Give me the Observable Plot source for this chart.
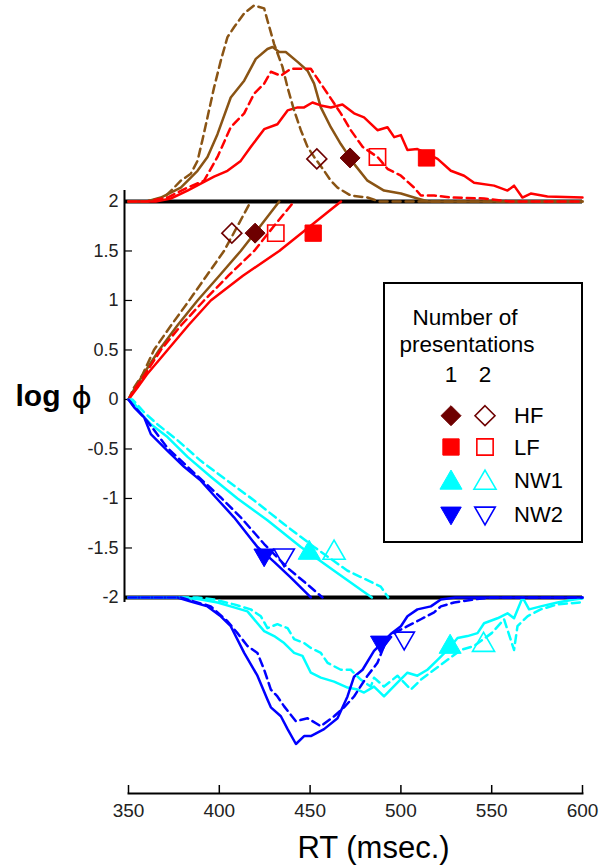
<!DOCTYPE html>
<html><head><meta charset="utf-8">
<script src="https://cdn.jsdelivr.net/npm/d3@7"></script>
<script src="https://cdn.jsdelivr.net/npm/@observablehq/plot@0.6"></script>
<style>
body{margin:0;background:#fff;font-family:"Liberation Sans",Arial,sans-serif;}
#wrap{position:relative;width:608px;height:867px;}
</style></head><body><div id="wrap"></div>
<script>
// ---------- tick labels & categories ----------
const xTicks = [350, 400, 450, 500, 550, 600];
const yTicks = [-2, -1.5, -1, -0.5, 0, 0.5, 1, 1.5, 2];
const series = ["HF", "LF", "NW1", "NW2"];
const presentations = [1, 2];

// ---------- cumulative log phi curves: [RT, log phi] ----------
const HF1_logphi = [[350,0],[353,0.1],[358,0.25],[366.9,0.5],[377,0.75],[388,1.0],[400,1.25],[411.8,1.5],[422.5,1.75],[433,2.0]];
const HF2_logphi = [[350,0],[353,0.12],[357.7,0.25],[364,0.5],[373.5,0.75],[383.4,1.0],[393,1.25],[402.6,1.5],[410,1.75],[417.3,2.0]];
const LF1_logphi = [[350,0],[355,0.12],[360,0.25],[371.5,0.5],[383,0.75],[395.3,1.0],[413,1.25],[433,1.5],[450,1.75],[467,2.0]];
const LF2_logphi = [[350,0],[354,0.12],[359,0.25],[367.8,0.5],[379,0.75],[391.6,1.0],[405,1.25],[419.2,1.5],[430,1.75],[441.2,2.0]];
const NW1_1_logphi = [[350,0],[352.2,-0.01],[356.8,-0.14],[362.3,-0.25],[371.5,-0.38],[382.5,-0.58],[395.3,-0.78],[410,-1.0],[426.5,-1.22],[444.9,-1.49],[463.2,-1.73],[484,-2.0]];
const NW1_2_logphi = [[350,0],[352.2,0],[358.6,-0.13],[365.9,-0.25],[376.9,-0.41],[389.8,-0.62],[404.5,-0.82],[419.2,-1.02],[435.7,-1.26],[452.2,-1.49],[470.6,-1.73],[488.9,-1.89],[493,-2.0]];
const NW2_1_logphi = [[350,0],[353.1,-0.08],[358.6,-0.18],[362.3,-0.35],[371.5,-0.52],[380.6,-0.68],[389.8,-0.82],[398.1,-0.99],[408.1,-1.19],[421,-1.49],[430.2,-1.64],[439.4,-1.8],[450.4,-2.0]];
const NW2_2_logphi = [[350,0],[353.1,-0.07],[360.4,-0.22],[371.5,-0.49],[382.5,-0.68],[400.8,-0.99],[411.8,-1.19],[424.7,-1.46],[437.5,-1.7],[448.6,-1.87],[456.8,-2.0]];

// ---------- RT distributions: [RT, height away from the +/-2 line] ----------
const HF1_dist = [[350,0],[360,0],[367.8,0.04],[378.8,0.14],[388,0.31],[393.5,0.45],[399,0.68],[406.3,1.05],[413.7,1.22],[420.1,1.44],[426.5,1.54],[429.3,1.56],[433,1.51],[436.6,1.51],[443.1,1.41],[448.6,1.32],[452.2,1.19],[455.9,0.95],[461.4,0.75],[466.9,0.58],[474.2,0.38],[481.6,0.21],[490.7,0.11],[500,0.08],[509.1,0.03],[515,0],[600,0]];
const HF2_dist = [[350,0],[360,0],[369.6,0.04],[375.1,0.14],[378.8,0.21],[384.3,0.28],[388,0.41],[390.7,0.62],[393.5,0.85],[397.1,1.15],[400.8,1.42],[404.5,1.66],[408.1,1.76],[413.7,1.9],[419.2,1.98],[424.7,1.95],[426.5,1.83],[430.2,1.59],[434.8,1.36],[437.6,1.15],[441.2,0.92],[444.9,0.72],[448.6,0.55],[452.2,0.45],[457.7,0.31],[461.4,0.21],[465.1,0.14],[472.4,0.06],[481.6,0.04],[488,0],[600,0]];
const LF1_dist = [[350,0],[365,0],[373.3,0.03],[382.5,0.11],[389.8,0.18],[397.1,0.25],[404.5,0.31],[411.8,0.41],[417.3,0.55],[424.7,0.73],[432,0.78],[437.6,0.92],[443.1,0.95],[446.7,0.95],[451.3,1.0],[455.9,0.97],[461.4,0.95],[467.8,0.98],[474.2,0.89],[479.7,0.85],[487.1,0.72],[492.6,0.75],[496.3,0.65],[500,0.67],[503.6,0.52],[509.1,0.53],[520.2,0.43],[527.5,0.31],[534.8,0.26],[540.3,0.19],[551.3,0.16],[558.7,0.11],[562.3,0.16],[566.9,0.04],[571.5,0.08],[580.7,0.05],[600,0.04]];
const LF2_dist = [[350,0],[360,0],[371.5,0.04],[382.5,0.14],[391.6,0.21],[399,0.45],[406.3,0.75],[413.7,0.89],[419.2,1.09],[424.7,1.19],[428.4,1.31],[433.9,1.27],[439.4,1.34],[450.4,1.34],[455.9,1.19],[459.6,1.09],[466.9,0.89],[472.4,0.72],[479,0.55],[487.1,0.45],[492.6,0.33],[500,0.26],[507.3,0.14],[511,0.06],[518.3,0.06],[527.5,0.04],[545.8,0.03],[560,0],[600,0]];
const NW1_1_dist = [[350,0],[380,0],[389.8,0.02],[399,0.05],[408.1,0.1],[415.5,0.14],[421,0.26],[424.7,0.34],[430.2,0.39],[435.7,0.46],[441.2,0.56],[445.8,0.59],[450.4,0.76],[455.9,0.81],[463.2,0.85],[470.6,0.91],[476.1,0.93],[479.7,0.96],[485.2,0.9],[490.7,1.0],[498.1,0.86],[503.6,0.76],[509.1,0.79],[514.6,0.73],[520.2,0.63],[525.7,0.53],[531.2,0.41],[536.7,0.39],[542.2,0.36],[545.8,0.26],[553.2,0.21],[558.7,0.16],[562.3,0.21],[567,0],[570.6,0.12],[577,0.09],[586.2,0.05],[595.4,0.02],[600,0.01]];
const NW1_2_dist = [[350,0],[388,0],[397.1,0.02],[408.1,0.07],[417.3,0.12],[422.9,0.19],[426.5,0.31],[432,0.27],[437.6,0.31],[441.2,0.42],[446.7,0.46],[450.4,0.51],[455.9,0.56],[459.6,0.66],[466.9,0.73],[472.4,0.73],[477.9,0.83],[483.4,0.9],[485.2,0.81],[490.7,0.9],[498.1,0.79],[505.5,0.93],[511,0.83],[518.3,0.73],[525.7,0.63],[533,0.53],[540.3,0.49],[550,0.36],[556.8,0.22],[562.3,0.53],[564.2,0.29],[569.7,0.19],[577,0.12],[586.2,0.07],[599,0.05]];
const NW2_1_dist = [[350,0],[377,0],[384.3,0.04],[393.5,0.09],[400.8,0.19],[406.3,0.29],[413.7,0.56],[421,0.79],[426.5,1.03],[428.4,1.11],[433.9,1.2],[437.6,1.33],[442.2,1.48],[446.7,1.4],[450.4,1.4],[457.7,1.33],[465.1,1.22],[470.6,1.0],[474.2,0.8],[478.9,0.73],[485.2,0.54],[494.4,0.37],[500,0.29],[503.6,0.19],[509.1,0.12],[516.5,0.09],[522,0.02],[530,0],[600,0]];
const NW2_2_dist = [[350,0],[378.8,0],[395.3,0.09],[404.5,0.24],[410,0.36],[415.5,0.49],[421,0.56],[424.7,0.73],[428.4,0.93],[432,1.0],[435.7,1.1],[442.2,1.25],[448.6,1.22],[455.9,1.3],[463.2,1.2],[468.7,1.11],[474.2,1.0],[481.6,0.79],[487.1,0.66],[490.7,0.49],[496.3,0.36],[503.6,0.29],[511,0.22],[518.3,0.15],[522,0.09],[529.3,0.05],[540.3,0.02],[550,0],[600,0]];

// ---------- mean-RT markers ----------
const markerSeries = ["HF","HF","LF","LF","NW1","NW1","NW2","NW2"];
const markerPres   = [1,2,1,2,1,2,1,2];
const midMarkerRT     = [419.7, 406.9, 451.7, 431.1, 449.5, 463.2, 424.7, 435.7];
const midMarkerLogPhi = [1.68, 1.68, 1.68, 1.68, -1.55, -1.55, -1.57, -1.57];
const distMarkerRT     = [472.0, 453.7, 514.1, 487.1, 527.1, 545.5, 488.9, 501.8];
const distMarkerHeight = [0.44, 0.43, 0.44, 0.45, 0.5, 0.48, 0.45, 0.41];

// ---------- styles ----------
const lineColor = {HF: "#8a5414", LF: "#ff0000", NW1: "#00ffff", NW2: "#0000ff"};
const markColor = {HF: "#6e0000", LF: "#ff0000", NW1: "#00ffff", NW2: "#0000ff"};
const markSymbol = {HF: "diamond2", LF: "square", NW1: "triangle", NW2: "triangle"};
const markRotate = {HF: 0, LF: 0, NW1: 0, NW2: 180};
const markR = {HF: 9, LF: 9.2, NW1: 8.2, NW2: 7.6};
const yAxisExtent = [-2.05, 2.11];
const FONT = '"Liberation Sans", Arial, sans-serif';

// ---------- build tables ----------
const curves = [
  {s:"HF", p:1, cum:HF1_logphi, dist:HF1_dist},
  {s:"HF", p:2, cum:HF2_logphi, dist:HF2_dist},
  {s:"LF", p:1, cum:LF1_logphi, dist:LF1_dist},
  {s:"LF", p:2, cum:LF2_logphi, dist:LF2_dist},
  {s:"NW1", p:1, cum:NW1_1_logphi, dist:NW1_1_dist},
  {s:"NW1", p:2, cum:NW1_2_logphi, dist:NW1_2_dist},
  {s:"NW2", p:1, cum:NW2_1_logphi, dist:NW2_1_dist},
  {s:"NW2", p:2, cum:NW2_2_logphi, dist:NW2_2_dist}
];
const isWord = s => s === "HF" || s === "LF";
const rows = [];
for (const c of curves) {
  for (const [rt, v] of c.cum) rows.push({key: c.s + c.p + "c", s: c.s, p: c.p, rt, y: v});
  for (const [rt, h] of c.dist) rows.push({key: c.s + c.p + "d", s: c.s, p: c.p, rt, y: isWord(c.s) ? 2 + h : -2 - h});
}
const markers = [];
markerSeries.forEach((s, i) => {
  markers.push({s, p: markerPres[i], rt: midMarkerRT[i], y: midMarkerLogPhi[i]});
  markers.push({s, p: markerPres[i], rt: distMarkerRT[i], y: isWord(s) ? 2 + distMarkerHeight[i] : -2 - distMarkerHeight[i]});
});

const lineOpts = (p) => ({
  x: "rt", y: "y", z: "key",
  stroke: d => lineColor[d.s],
  strokeWidth: 2.5,
  strokeDasharray: p === 2 ? "8,5" : null,
  curve: "linear"
});
const dotOpts = (p) => ({
  x: "rt", y: "y",
  symbol: d => markSymbol[d.s],
  r: d => markR[d.s],
  rotate: d => markRotate[d.s],
  fill: p === 1 ? (d => markColor[d.s]) : "none",
  stroke: d => markColor[d.s],
  strokeWidth: p === 1 ? 1 : 1.6
});

const chart = Plot.plot({
  width: 608, height: 867,
  marginLeft: 128, marginRight: 26, marginTop: 0, marginBottom: 74,
  x: {domain: [350, 600]},
  y: {domain: [-3.98, 4.03]},
  r: {type: "identity"},
  style: {fontFamily: FONT, fontSize: "18px", color: "#222", background: "white", overflow: "visible"},
  marks: [
    Plot.axisX(xTicks, {tickSize: 0, tickPadding: 10, fontSize: 19, label: null}),
    Plot.axisY(yTicks, {tickSize: 0, tickPadding: 10, fontSize: 18, label: null, tickFormat: d => String(d)}),
    Plot.frame({anchor: "bottom", strokeWidth: 2, stroke: "#000"}),
    Plot.tickX(xTicks, {x: d => d, insetTop: 785, strokeWidth: 1.5, stroke: "#000"}),
    Plot.ruleX([350], {y1: yAxisExtent[0], y2: yAxisExtent[1], dx: -4, strokeWidth: 2, stroke: "#000"}),
    Plot.tickY(yTicks, {y: d => d, dx: -4, insetRight: 446, strokeWidth: 1.2, stroke: "#000"}),
    Plot.ruleY([2, -2], {strokeWidth: 4, stroke: "#000", insetLeft: -4}),
    Plot.line(rows.filter(d => d.p === 1), lineOpts(1)),
    Plot.line(rows.filter(d => d.p === 2), lineOpts(2)),
    Plot.dot(markers.filter(d => d.p === 1), dotOpts(1)),
    Plot.dot(markers.filter(d => d.p === 2), dotOpts(2)),
    Plot.text(["RT (msec.)"], {text: d => d, frameAnchor: "bottom", dx: 18, dy: 64, fontSize: 31, fill: "#000"}),
    Plot.text(["log"], {text: d => d, frameAnchor: "left", textAnchor: "start", dx: -113, dy: -1, fontSize: 30, fontWeight: "bold", fill: "#000"}),
    Plot.text(["\u03d5"], {text: d => d, frameAnchor: "left", textAnchor: "start", dx: -57, dy: 1, fontSize: 31, fontFamily: '"DejaVu Sans", sans-serif', fill: "#000"})
  ]
});
const wrap = document.getElementById("wrap");
wrap.appendChild(chart);

// ---------- legend (overlay box) ----------
const symMap = {diamond2: d3.symbolDiamond2, square: d3.symbolSquare, triangle: d3.symbolTriangle};
const lg = d3.create("svg").attr("width", 200).attr("height", 261)
  .style("position", "absolute").style("left", "383px").style("top", "282px")
  .style("font-family", FONT);
lg.append("rect").attr("x", 1).attr("y", 1).attr("width", 198).attr("height", 259)
  .attr("fill", "white").attr("stroke", "#000").attr("stroke-width", 2);
const headerLines = ["Number of", "presentations"];
lg.append("text").attr("x", 82).attr("y", 43).attr("text-anchor", "middle").attr("font-size", 22.5).text(headerLines[0]);
lg.append("text").attr("x", 84).attr("y", 70).attr("text-anchor", "middle").attr("font-size", 22.5).text(headerLines[1]);
const colX = [68, 102];
presentations.forEach((p, i) => lg.append("text").attr("x", colX[i]).attr("y", 100).attr("text-anchor", "middle").attr("font-size", 22.5).text(String(p)));
const rowY = [133.7, 165, 200.8, 231];
const rowTextY = [141.3, 173, 206, 239.7];
series.forEach((s, i) => {
  presentations.forEach((p, j) => {
    const path = d3.symbol(symMap[markSymbol[s]], Math.PI * markR[s] * markR[s])();
    lg.append("path").attr("d", path)
      .attr("transform", `translate(${colX[j]},${rowY[i]}) rotate(${markRotate[s]})`)
      .attr("fill", p === 1 ? markColor[s] : "none")
      .attr("stroke", markColor[s]).attr("stroke-width", p === 1 ? 1 : 1.6);
  });
  lg.append("text").attr("x", 131).attr("y", rowTextY[i]).attr("font-size", 22).text(s);
});
wrap.appendChild(lg.node());
</script></body></html>
